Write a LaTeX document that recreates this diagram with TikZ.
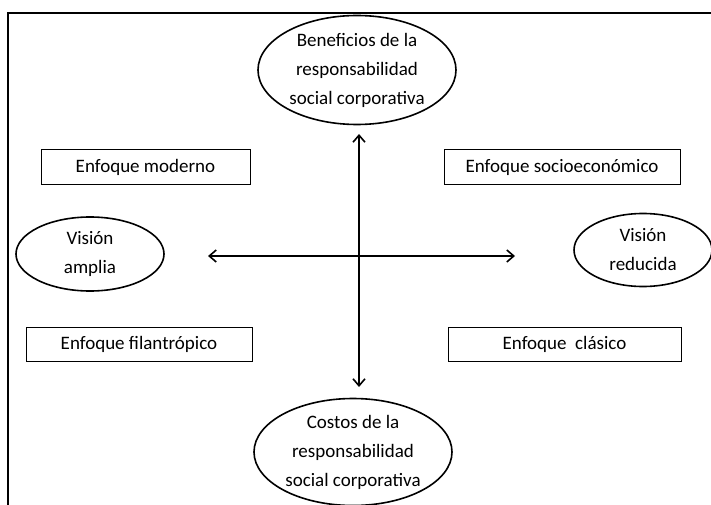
\documentclass[tikz,border=0pt]{standalone}
\usepackage{fontspec}
\setmainfont{Carlito}
\usetikzlibrary{shapes.geometric,arrows.meta}

\tikzset{
  oval/.style={draw, ellipse, line width=1.6pt, inner sep=0pt, align=center,
    font=\fontsize{19}{29}\selectfont},
  enfoque/.style={draw, rectangle, line width=1pt, inner sep=0pt,
    minimum height=34pt, font=\fontsize{19}{22}\selectfont},
  eje/.style={line width=1.6pt, {Straight Barb[length=7pt,width=12pt]}-{Straight Barb[length=7pt,width=12pt]}}
}

\begin{document}
\begin{tikzpicture}[x=1pt,y=-1pt]
  \useasboundingbox (0,0) rectangle (711,505);
  \draw[line width=1.4pt] (8,505) -- (8,13) -- (711,13); % frame, open right and bottom

  % ellipses
  \node[oval, minimum width=198pt, minimum height=109pt] (benef) at (357,70)
    {Beneficios de la\\responsabilidad\\social corporativa};
  \node[oval, minimum width=198pt, minimum height=107pt] (costos) at (353,452)
    {Costos de la\\responsabilidad\\social corporativa};
  \node[oval, minimum width=148pt, minimum height=74pt] (amplia) at (90,254)
    {Visión\\amplia};
  \node[oval, minimum width=138pt, minimum height=73pt] (reducida) at (643,250)
    {Visión\\reducida};

  % boxes
  \node[enfoque, minimum width=209pt] (moderno) at (145.5,167) {Enfoque moderno};
  \node[enfoque, minimum width=236pt] (socio) at (562,167) {Enfoque socioeconómico};
  \node[enfoque, minimum width=226pt] (filan) at (139,344) {Enfoque filantrópico};
  \node[enfoque, minimum width=233pt] (clasico) at (564.5,344) {Enfoque\ \ clásico};

  % axes
  \coordinate (arriba) at (359,134);
  \coordinate (abajo) at (359,387);
  \coordinate (izq) at (208,256);
  \coordinate (der) at (515,256);
  \draw[eje] (arriba) -- (abajo);
  \draw[eje] (izq) -- (der);
\end{tikzpicture}
\end{document}
